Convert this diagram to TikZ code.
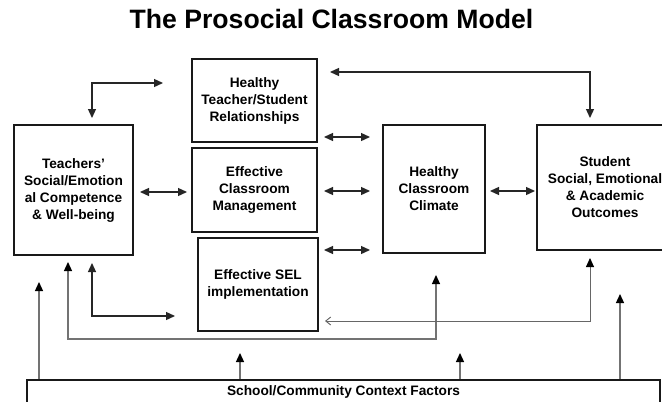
\documentclass[tikz,border=0pt]{standalone}
\usepackage{fontspec}
\setmainfont{Liberation Sans}
\usetikzlibrary{arrows.meta}
\begin{document}
\begin{tikzpicture}[x=1pt,y=-1pt,
  box/.style={draw=black!90,line width=1.6pt,rectangle,inner sep=0pt,align=center,
    font=\fontsize{13.7}{17}\selectfont\bfseries},
  lbl/.style={inner sep=0pt,align=center,font=\fontsize{13.7}{17}\selectfont\bfseries},
  arr/.style={line width=1.3pt,draw=black!85,{Triangle[length=9pt,width=8pt]}-{Triangle[length=9pt,width=8pt]}},
  garr/.style={line width=1.3pt,draw=black!55,{Triangle[length=9pt,width=8pt,color=black]}-{Triangle[length=9pt,width=8pt,color=black]}},
  uarr/.style={line width=1.3pt,draw=black!55,-{Triangle[length=9pt,width=8pt,color=black]}},
  thin/.style={line width=0.9pt,draw=black!60,{Straight Barb[length=5pt,width=8pt]}-{Triangle[length=9pt,width=8pt,color=black]}}
]
\useasboundingbox (0,0) rectangle (662,402);
\fill[white] (0,0) rectangle (662,402);
\node[inner sep=0pt,anchor=base,font=\fontsize{26.6}{30}\selectfont\bfseries] (title) at (331.5,28) {The Prosocial Classroom Model};

\node[box,minimum width=119,minimum height=130] (teach) at (73.5,190) {Teachers'\\Social/Emotion\\al Competence\\\& Well-being};
\node[box,minimum width=125,minimum height=83] (rel) at (254.5,100.5) {Healthy\\Teacher/Student\\Relationships};
\node[box,minimum width=125,minimum height=84] (mgmt) at (254.5,190) {Effective\\Classroom\\Management};
\node[box,minimum width=120,minimum height=93] (sel) at (258,284.5) {Effective SEL\\implementation};
\node[box,minimum width=102,minimum height=128] (clim) at (434,189) {Healthy\\Classroom\\Climate};
\node[box,minimum width=136,minimum height=125] (stud) at (605,187.5) {Student\\Social, Emotional\\\& Academic\\Outcomes};
\node[box,minimum width=633,minimum height=44] (school) at (343.5,402) {};
\node[lbl] (schooltxt) at (343.5,392) {School/Community Context Factors};

% top elbows
\coordinate (a1) at (163,83); \coordinate (a2) at (92,118);
\draw[arr] (a1) -| (a2);
\coordinate (b1) at (330,72); \coordinate (b2) at (590,118);
\draw[arr] (b1) -| (b2);
% horizontal double arrows
\coordinate (c1) at (140,192); \coordinate (c2) at (187,192);
\draw[arr] (c1) -- (c2);
\coordinate (d1) at (324,137); \coordinate (d2) at (370,137);
\draw[arr] (d1) -- (d2);
\coordinate (e1) at (324,191); \coordinate (e2) at (370,191);
\draw[arr] (e1) -- (e2);
\coordinate (f1) at (324,250); \coordinate (f2) at (370,250);
\draw[arr] (f1) -- (f2);
\coordinate (g1) at (490,191); \coordinate (g2) at (535,191);
\draw[arr] (g1) -- (g2);
% bottom elbows
\coordinate (h1) at (68,262); \coordinate (h2) at (436,275);
\draw[garr] (h1) -- (68,339) -- (436,339) -- (h2);
\coordinate (i1) at (92,263); \coordinate (i2) at (175,316);
\draw[arr] (i1) |- (i2);
\coordinate (j1) at (325,321); \coordinate (j2) at (590,258);
\draw[thin] (j1) -| (j2);
% context arrows
\coordinate (k1) at (39,282); \draw[uarr] (school.north -| k1) -- (k1);
\coordinate (k2) at (240,353); \draw[uarr] (school.north -| k2) -- (k2);
\coordinate (k3) at (460,353); \draw[uarr] (school.north -| k3) -- (k3);
\coordinate (k4) at (620,294); \draw[uarr] (school.north -| k4) -- (k4);
\end{tikzpicture}
\end{document}
